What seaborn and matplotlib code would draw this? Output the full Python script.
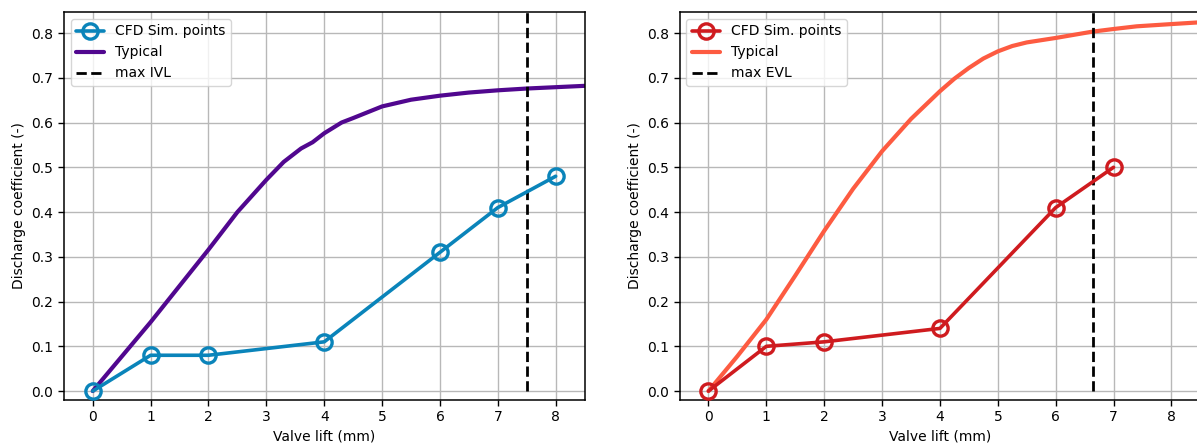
import numpy as np
import pandas as pd
import matplotlib
matplotlib.use("Agg")
import matplotlib.pyplot as plt
import seaborn as sns

# ---- data ----
cfd_lift_in = [0, 1, 2, 4, 6, 7, 8]
cfd_cd_in = [0.0, 0.08, 0.08, 0.11, 0.31, 0.41, 0.48]

typ_lift_in = [0, 0.5, 1, 1.5, 2, 2.5, 3, 3.3, 3.5, 3.6, 3.8, 4, 4.3, 4.5, 5, 5.5, 6, 6.5, 7, 7.5, 8, 8.5]
typ_cd_in = [0.0, 0.077, 0.154, 0.235, 0.316, 0.400, 0.472, 0.512, 0.532, 0.542, 0.556,
             0.576, 0.600, 0.610, 0.636, 0.651, 0.660, 0.667, 0.672, 0.676, 0.679, 0.682]

cfd_lift_ex = [0, 1, 2, 4, 6, 7]
cfd_cd_ex = [0.0, 0.10, 0.11, 0.14, 0.41, 0.50]

typ_lift_ex = [0, 0.5, 1, 1.5, 2, 2.5, 3, 3.5, 4, 4.25, 4.5, 4.75, 5, 5.25, 5.5, 6, 6.63, 7, 7.4, 8, 8.5]
typ_cd_ex = [0.0, 0.078, 0.160, 0.258, 0.358, 0.452, 0.536, 0.608, 0.670, 0.698, 0.722,
             0.743, 0.759, 0.771, 0.779, 0.789, 0.803, 0.809, 0.815, 0.820, 0.824]

max_ivl = 7.5
max_evl = 6.64

x_ticks = [0, 1, 2, 3, 4, 5, 6, 7, 8]
y_ticks = [0.0, 0.1, 0.2, 0.3, 0.4, 0.5, 0.6, 0.7, 0.8]

sns.set_theme(style="ticks")
plt.rcParams['font.family'] = ['DejaVu Sans']
plt.rcParams['axes.edgecolor'] = 'black'
plt.rcParams['xtick.color'] = 'black'
plt.rcParams['ytick.color'] = 'black'
plt.rcParams['axes.labelcolor'] = 'black'
plt.rcParams['text.color'] = 'black'

fig = plt.figure(figsize=(11.97, 4.46), dpi=100)
ax1 = fig.add_axes([0.0533, 0.1031, 0.4351, 0.870])
ax2 = fig.add_axes([0.5677, 0.1031, 0.4351, 0.870])

ylo, yhi = -0.02, 0.847

panels = [
    (ax1, cfd_lift_in, cfd_cd_in, typ_lift_in, typ_cd_in, max_ivl, "max IVL", "#0a84ba", "#51078f"),
    (ax2, cfd_lift_ex, cfd_cd_ex, typ_lift_ex, typ_cd_ex, max_evl, "max EVL", "#cf1b1f", "#fd5b41"),
]

for ax, cx, cy, tx, ty, vmax, vlab, ccol, tcol in panels:
    ax.grid(True, color='#b8b8b8', linewidth=1.0, zorder=0)
    ax.set_axisbelow(True)
    sns.lineplot(x=cx, y=cy, ax=ax, color=ccol, linewidth=2.6, marker='o',
                 markersize=11, markerfacecolor='none', markeredgecolor=ccol,
                 markeredgewidth=2.4, label="CFD Sim. points", zorder=3)
    sns.lineplot(x=tx, y=ty, ax=ax, color=tcol, linewidth=3, label="Typical", zorder=2)
    ax.axvline(vmax, ymin=(0 - ylo) / (yhi - ylo), ymax=1, color='black',
               linestyle='--', linewidth=2, label=vlab)
    ax.set_xlim(-0.5, 8.5)
    ax.set_ylim(ylo, yhi)
    ax.set_xticks(x_ticks)
    ax.set_yticks(y_ticks)
    ax.set_yticklabels([f"{v:.1f}" for v in y_ticks])
    ax.tick_params(labelsize=10, length=4, width=1)
    ax.set_xlabel("Valve lift (mm)", fontsize=10)
    ax.set_ylabel("Discharge coefficient (-)", fontsize=10)
    for s in ax.spines.values():
        s.set_visible(True)
        s.set_linewidth(1.1)
        s.set_color('black')
    ax.legend(loc='upper left', fontsize=10, framealpha=0.8, edgecolor='#cccccc',
              borderaxespad=0.5, handlelength=2.0)

fig.savefig("out.png", dpi=100)
